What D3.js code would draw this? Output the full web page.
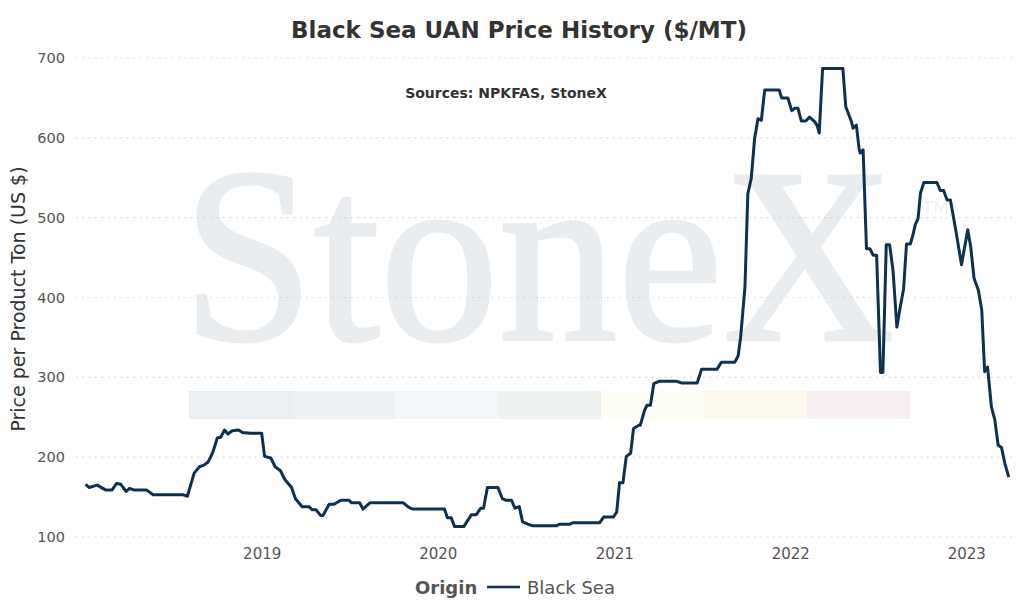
<!DOCTYPE html>
<html>
<head>
<meta charset="utf-8">
<script src="https://cdn.jsdelivr.net/npm/d3@7"></script>
<style>
  body { margin: 0; background: #fff; }
  svg { display: block; font-family: "DejaVu Sans", Verdana, sans-serif; }
</style>
</head>
<body>
<svg id="chart" width="1031" height="605"></svg>
<script>
// Black Sea UAN price, $/MT
const dates = [
  "2018-01-01","2018-01-08","2018-01-25","2018-02-11","2018-02-25","2018-03-06","2018-03-15","2018-03-26",
  "2018-04-02","2018-04-11","2018-05-07","2018-05-21","2018-07-21","2018-07-31","2018-08-14","2018-08-25",
  "2018-09-03","2018-09-12","2018-09-21","2018-10-01","2018-10-08","2018-10-16","2018-10-23","2018-11-01",
  "2018-11-14","2018-11-22","2018-12-09","2019-01-01","2019-01-07","2019-01-20","2019-01-29","2019-02-09",
  "2019-02-18","2019-03-04","2019-03-12","2019-03-26","2019-04-09","2019-04-16","2019-04-24","2019-05-03",
  "2019-05-08","2019-05-21","2019-05-31","2019-06-14","2019-07-01","2019-07-06","2019-07-23","2019-07-30",
  "2019-08-14","2019-10-21","2019-10-31","2019-11-09","2020-01-15","2020-01-21","2020-01-29","2020-02-05",
  "2020-02-24","2020-03-11","2020-03-21","2020-03-30","2020-04-05","2020-04-13","2020-05-05","2020-05-14",
  "2020-05-22","2020-06-02","2020-06-09","2020-06-18","2020-06-25","2020-07-06","2020-07-17","2020-09-03",
  "2020-09-10","2020-10-01","2020-10-08","2020-12-02","2020-12-10","2020-12-30","2021-01-06","2021-01-12",
  "2021-01-19","2021-01-26","2021-02-04","2021-02-10","2021-02-21","2021-02-24","2021-03-05","2021-03-10",
  "2021-03-17","2021-03-24","2021-04-04","2021-05-11","2021-05-20","2021-06-22","2021-07-01","2021-08-02",
  "2021-08-11","2021-09-08","2021-09-15","2021-09-20","2021-09-29","2021-10-05","2021-10-12","2021-10-19",
  "2021-10-26","2021-11-02","2021-11-09","2021-12-09","2021-12-14","2021-12-27","2022-01-04","2022-01-10",
  "2022-01-17","2022-01-24","2022-02-02","2022-02-10","2022-02-21","2022-02-26","2022-03-02","2022-03-09",
  "2022-04-20","2022-04-26","2022-05-01","2022-05-08","2022-05-11","2022-05-18","2022-05-24","2022-05-26",
  "2022-06-01","2022-06-08","2022-06-15","2022-06-22","2022-06-29","2022-07-07","2022-07-12","2022-07-19",
  "2022-07-26","2022-08-02","2022-08-10","2022-08-17","2022-08-24","2022-08-30","2022-09-07","2022-09-13",
  "2022-09-17","2022-09-23","2022-09-28","2022-10-05","2022-11-01","2022-11-08","2022-11-15","2022-11-22",
  "2022-11-29","2022-12-10","2022-12-22","2023-01-04","2023-01-10","2023-01-17","2023-01-26","2023-02-02",
  "2023-02-08","2023-02-14","2023-02-22","2023-03-01","2023-03-08","2023-03-15","2023-03-22","2023-03-30"
]
const prices = [
  166,162,165,159,159,167,166,157,
  161,159,159,153,153,151,180,188,
  190,194,205,224,225,234,229,233,
  234,231,230,230,201,199,188,183,
  172,162,148,138,138,134,134,127,
  127,141,141,146,146,143,143,135,
  143,143,138,135,135,124,124,113,
  113,128,128,136,136,162,162,148,
  146,146,136,138,119,116,114,114,
  116,116,118,118,125,125,131,168,
  168,201,205,236,240,240,259,265,
  265,292,295,295,293,293,310,310,
  319,319,327,350,413,530,549,599,
  624,622,660,660,650,650,634,637,
  637,621,621,626,620,615,606,687,
  687,639,631,620,612,616,585,581,
  585,461,461,453,453,306,306,466,
  466,434,363,388,411,467,467,480,
  491,499,531,544,544,534,534,522,
  522,485,441,485,464,424,409,384,
  307,313,263,247,215,212,192,175
]
const yTicks = [100, 200, 300, 400, 500, 600, 700]
const xTickYears = [2019, 2020, 2021, 2022, 2023]
const stripColors = ["#eaeef1", "#edf1f3", "#f3f7f9", "#edf2ef", "#fdfdf3", "#fcf8ee", "#f8eef0"]

const parseDate = d3.timeParse("%Y-%m-%d")
const series = dates.map((d, i) => ({ date: parseDate(d), value: prices[i] }))

const svg = d3.select("#chart")
const margin = { top: 58, right: 15, bottom: 68, left: 76 }
const width = 1031, height = 605

const x = d3.scaleTime()
	.domain([parseDate("2017-12-12"), parseDate("2023-04-14")])
	.range([margin.left, width - margin.right])

const y = d3.scaleLinear()
	.domain([100, 700])
	.range([height - margin.bottom, margin.top])

// watermark (logo) behind everything, squeezed a little sideways
const wm = svg.append("g").attr("class", "watermark")
wm.append("text")
	.attr("transform", "translate(182,340) scale(0.95,1)")
	.attr("font-family", "'Liberation Serif', 'DejaVu Serif', serif")
	.attr("font-size", 250)
	.attr("fill", "#eaedf0")
	.attr("stroke", "#eaedf0")
	.attr("stroke-width", 3)
	.text("StoneX")
wm.append("text")
	.attr("x", 922)
	.attr("y", 214)
	.attr("font-size", 18)
	.attr("fill", "#eef1f3")
	.text("TM")

const stripW = 103
wm.selectAll("rect")
	.data(stripColors)
	.enter()
	.append("rect")
	.attr("x", (d, i) => 189 + i * stripW)
	.attr("y", 391)
	.attr("width", stripW)
	.attr("height", 28)
	.attr("fill", d => d)

// dotted horizontal grid
svg.append("g")
	.selectAll("line")
	.data(yTicks)
	.enter()
	.append("line")
	.attr("x1", margin.left)
	.attr("x2", width - margin.right)
	.attr("y1", d => y(d))
	.attr("y2", d => y(d))
	.attr("stroke", "#c9c9c9")
	.attr("stroke-width", 1.2)
	.attr("stroke-dasharray", "1.2,5.2")

// y axis labels
svg.append("g")
	.attr("transform", "translate(" + (margin.left - 11) + ",0)")
	.call(d3.axisLeft(y).tickValues(yTicks).tickSize(0).tickPadding(0))
	.call(g => g.select(".domain").remove())
	.call(g => g.selectAll("text")
		.attr("font-size", 14.5)
		.attr("font-family", "'DejaVu Sans', sans-serif")
		.attr("fill", "#555"))

// x axis labels
svg.append("g")
	.attr("transform", "translate(0," + (height - margin.bottom + 9) + ")")
	.call(d3.axisBottom(x)
		.tickValues(xTickYears.map(yr => new Date(yr, 0, 1)))
		.tickFormat(d3.timeFormat("%Y"))
		.tickSize(0)
		.tickPadding(0))
	.call(g => g.select(".domain").remove())
	.call(g => g.selectAll("text")
		.attr("dy", "0.85em")
		.attr("font-size", 15)
		.attr("font-family", "'DejaVu Sans', sans-serif")
		.attr("fill", "#555"))

// the price line
const line = d3.line()
	.x(d => x(d.date))
	.y(d => y(d.value))

svg.append("path")
	.datum(series)
	.attr("fill", "none")
	.attr("stroke", "#0e3152")
	.attr("stroke-width", 3)
	.attr("stroke-linejoin", "round")
	.attr("d", line)

// titles
svg.append("text")
	.attr("x", 519)
	.attr("y", 38)
	.attr("text-anchor", "middle")
	.attr("font-size", 23)
	.attr("font-weight", "bold")
	.attr("fill", "#333")
	.text("Black Sea UAN Price History ($/MT)")

svg.append("text")
	.attr("x", 506)
	.attr("y", 98)
	.attr("text-anchor", "middle")
	.attr("font-size", 14)
	.attr("font-weight", "bold")
	.attr("fill", "#333")
	.text("Sources: NPKFAS, StoneX")

svg.append("text")
	.attr("transform", "translate(25,299) rotate(-90)")
	.attr("text-anchor", "middle")
	.attr("font-size", 19)
	.attr("fill", "#333")
	.text("Price per Product Ton (US $)")

// legend
const legend = svg.append("g").attr("transform", "translate(415,594)")
legend.append("text")
	.attr("x", 0)
	.attr("font-size", 18)
	.attr("font-weight", "bold")
	.attr("fill", "#555")
	.text("Origin")
legend.append("line")
	.attr("x1", 72).attr("x2", 105)
	.attr("y1", -7).attr("y2", -7)
	.attr("stroke", "#0e3152")
	.attr("stroke-width", 2.5)
legend.append("text")
	.attr("x", 112)
	.attr("font-size", 18)
	.attr("fill", "#555")
	.text("Black Sea")
</script>
</body>
</html>
